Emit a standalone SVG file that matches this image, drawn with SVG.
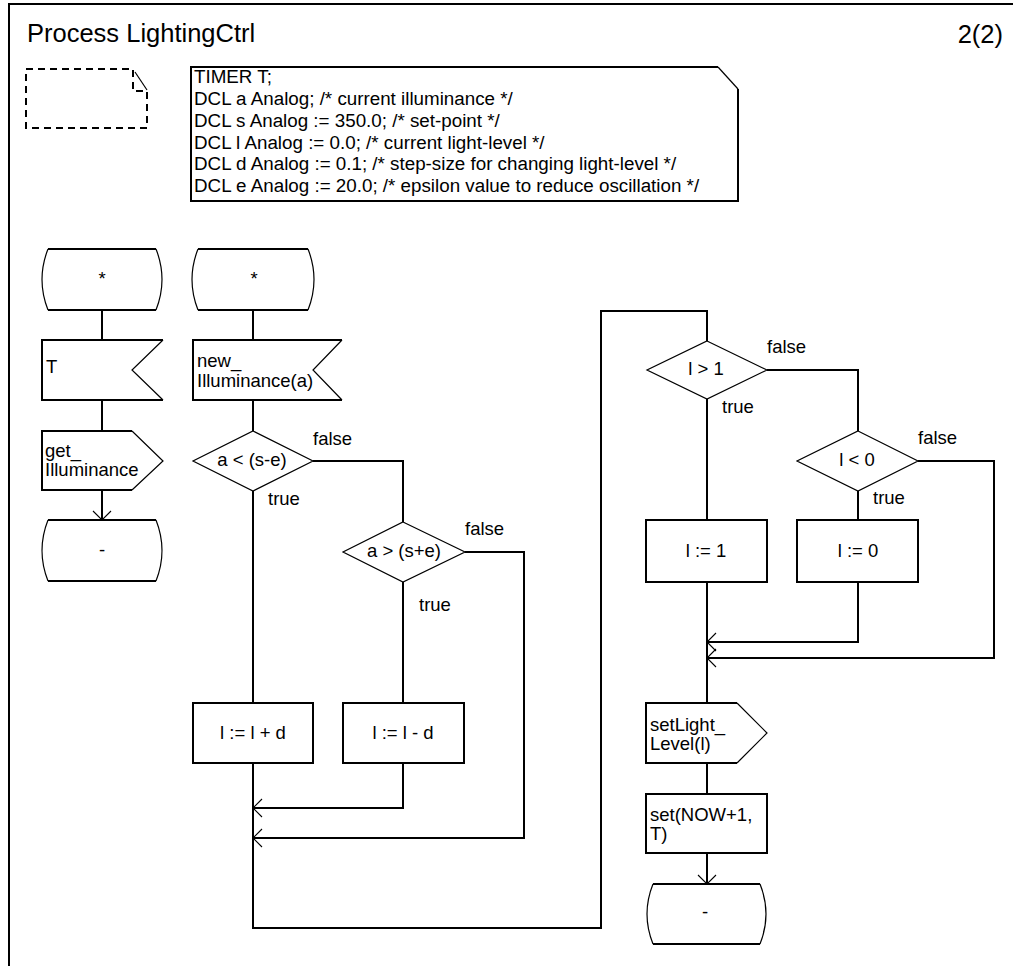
<svg xmlns="http://www.w3.org/2000/svg" width="1013" height="966" viewBox="0 0 1013 966">
  <style>
    .ln { fill: none; stroke: #000; stroke-width: 2; }
    .sl { fill: none; stroke: #000; stroke-width: 1.2; }
    .bg { fill: #fff; stroke: none; }
    .dash { fill: none; stroke: #000; stroke-width: 2; stroke-dasharray: 7 5; }
    text { font-family: "Liberation Sans", Arial, Helvetica, sans-serif; font-size: 18.5px; fill: #000; }
    .title { font-size: 25.5px; }
    .decl { font-size: 18.8px; }
    .mid { text-anchor: middle; }
  </style>
  <defs>
    <marker id="arr" markerUnits="userSpaceOnUse" markerWidth="20" markerHeight="20" refX="10" refY="10" orient="auto" overflow="visible">
      <path d="M1,1 L10,10 L1,19" fill="none" stroke="#000" stroke-width="1.1"/>
    </marker>
  </defs>

  <rect width="1013" height="966" fill="#fff"/>

  <!-- page frame -->
  <g id="frame">
    <path class="ln" d="M9,966 V4 H1013"/>
    <text class="title" x="27" y="42">Process LightingCtrl</text>
    <text class="title" x="1003" y="43" text-anchor="end">2(2)</text>
  </g>

  <!-- empty dashed comment symbol -->
  <g id="comment">
    <path class="dash" d="M26,69 H133 V91 H147 V128 H26 Z"/>
    <path class="sl" d="M135,72 L147,90"/>
  </g>

  <!-- declarations -->
  <g id="decls">
    <path class="bg" d="M191,67 H718 L738,89 V201 H191 Z"/>
    <path class="ln" d="M718,67 H191 V201 H738 V89"/>
    <path class="sl" d="M718,67 L738,89"/>
    <text class="decl" x="194" y="83">TIMER T;</text>
    <text class="decl" x="194" y="105">DCL a Analog; /* current illuminance */</text>
    <text class="decl" x="194" y="127">DCL s Analog := 350.0; /* set-point */</text>
    <text class="decl" x="194" y="149">DCL l Analog := 0.0; /* current light-level */</text>
    <text class="decl" x="194" y="170">DCL d Analog := 0.1; /* step-size for changing light-level */</text>
    <text class="decl" x="194" y="192">DCL e Analog := 20.0; /* epsilon value to reduce oscillation */</text>
  </g>

  <!-- connectors -->
  <g id="connectors">
    <path class="ln" d="M102,310 V340"/>
    <path class="ln" d="M102,400 V431"/>
    <path class="ln" d="M102,490 V520" marker-end="url(#arr)"/>

    <path class="ln" d="M253,310 V340"/>
    <path class="ln" d="M253,400 V431"/>
    <path class="ln" d="M313,461 H403 V522"/>
    <path class="ln" d="M253,491 V703"/>
    <path class="ln" d="M403,582 V703"/>
    <path class="ln" d="M465,552 H524 V838 H253" marker-end="url(#arr)"/>
    <path class="ln" d="M403,763 V808 H253" marker-end="url(#arr)"/>
    <path class="ln" d="M253,763 V928 H601 V311 H707 V341"/>

    <path class="ln" d="M767,370 H858 V431"/>
    <path class="ln" d="M707,399 V520"/>
    <path class="ln" d="M858,491 V520"/>
    <path class="ln" d="M918,461 H994 V658 H707" marker-end="url(#arr)"/>
    <path class="ln" d="M858,582 V642 H707" marker-end="url(#arr)"/>
    <path class="ln" d="M707,582 V703"/>
    <path class="ln" d="M707,763 V794"/>
    <path class="ln" d="M707,853 V884" marker-end="url(#arr)"/>
  </g>

  <!-- timer transition -->
  <g id="start1">
    <path class="bg" d="M48,249 H156 Q168,279.5 156,310 H48 Q36,279.5 48,249 Z"/>
    <path class="ln" d="M48,249 H156 M48,310 H156"/>
    <path class="sl" d="M156,249 Q168,279.5 156,310 M48,249 Q36,279.5 48,310"/>
    <text class="mid" x="102" y="285">*</text>
  </g>
  <g id="inputT">
    <path class="bg" d="M42,340 H163 L132,370 L163,400 H42 Z"/>
    <path class="ln" d="M163,340 H42 V400 H163"/>
    <path class="sl" d="M163,340 L132,370 L163,400"/>
    <text x="46" y="373">T</text>
  </g>
  <g id="outGet">
    <path class="bg" d="M42,431 H132 L163,461 L132,490 H42 Z"/>
    <path class="ln" d="M132,431 H42 V490 H132"/>
    <path class="sl" d="M132,431 L163,461 L132,490"/>
    <text x="45" y="457">get_</text>
    <text x="45" y="476">Illuminance</text>
  </g>
  <g id="end1">
    <path class="bg" d="M48,520 H156 Q168,550.5 156,581 H48 Q36,550.5 48,520 Z"/>
    <path class="ln" d="M48,520 H156 M48,581 H156"/>
    <path class="sl" d="M156,520 Q168,550.5 156,581 M48,520 Q36,550.5 48,581"/>
    <text class="mid" x="102" y="556">-</text>
  </g>

  <!-- illuminance transition -->
  <g id="start2">
    <path class="bg" d="M198,249 H308 Q320,279.5 308,310 H198 Q186,279.5 198,249 Z"/>
    <path class="ln" d="M198,249 H308 M198,310 H308"/>
    <path class="sl" d="M308,249 Q320,279.5 308,310 M198,249 Q186,279.5 198,310"/>
    <text class="mid" x="254" y="285">*</text>
  </g>
  <g id="inputIllum">
    <path class="bg" d="M193,340 H342 L313,370 L342,400 H193 Z"/>
    <path class="ln" d="M342,340 H193 V400 H342"/>
    <path class="sl" d="M342,340 L313,370 L342,400"/>
    <text x="197" y="367">new_</text>
    <text x="197" y="387">Illuminance(a)</text>
  </g>
  <g id="decLow">
    <path class="bg" d="M253,431 L313,461 L253,491 L193,461 Z"/>
    <path class="sl" d="M253,431 L313,461 L253,491 L193,461 Z"/>
    <text class="mid" x="252" y="466">a &lt; (s-e)</text>
    <text x="313" y="445">false</text>
    <text x="268" y="505">true</text>
  </g>
  <g id="decHigh">
    <path class="bg" d="M403,522 L465,552 L403,582 L343,552 Z"/>
    <path class="sl" d="M403,522 L465,552 L403,582 L343,552 Z"/>
    <text class="mid" x="404" y="557">a &gt; (s+e)</text>
    <text x="465" y="535">false</text>
    <text x="419" y="611">true</text>
  </g>
  <g id="taskInc">
    <rect class="ln" x="193" y="703" width="120" height="60" fill="#fff"/>
    <text class="mid" x="253" y="739">l := l + d</text>
  </g>
  <g id="taskDec">
    <rect class="ln" x="343" y="703" width="121" height="60" fill="#fff"/>
    <text class="mid" x="403" y="739">l := l - d</text>
  </g>

  <!-- clamping -->
  <g id="decMax">
    <path class="bg" d="M707,341 L767,370 L707,399 L647,370 Z"/>
    <path class="sl" d="M707,341 L767,370 L707,399 L647,370 Z"/>
    <text class="mid" x="706" y="375">l &gt; 1</text>
    <text x="767" y="353">false</text>
    <text x="722" y="413">true</text>
  </g>
  <g id="decMin">
    <path class="bg" d="M858,431 L918,461 L858,491 L797,461 Z"/>
    <path class="sl" d="M858,431 L918,461 L858,491 L797,461 Z"/>
    <text class="mid" x="857" y="466">l &lt; 0</text>
    <text x="918" y="444">false</text>
    <text x="873" y="504">true</text>
  </g>
  <g id="taskMax">
    <rect class="ln" x="646" y="520" width="121" height="62" fill="#fff"/>
    <text class="mid" x="706" y="557">l := 1</text>
  </g>
  <g id="taskMin">
    <rect class="ln" x="797" y="520" width="121" height="62" fill="#fff"/>
    <text class="mid" x="858" y="557">l := 0</text>
  </g>
  <g id="outSet">
    <path class="bg" d="M646,703 H737 L767,733 L737,763 H646 Z"/>
    <path class="ln" d="M737,703 H646 V763 H737"/>
    <path class="sl" d="M737,703 L767,733 L737,763"/>
    <text x="650" y="731">setLight_</text>
    <text x="650" y="750">Level(l)</text>
  </g>
  <g id="taskTimer">
    <rect class="ln" x="646" y="794" width="121" height="59" fill="#fff"/>
    <text x="650" y="821">set(NOW+1,</text>
    <text x="650" y="840">T)</text>
  </g>
  <g id="end2">
    <path class="bg" d="M653,884 H760 Q772,914 760,944 H653 Q641,914 653,944 Z"/>
    <path class="ln" d="M653,884 H760 M653,944 H760"/>
    <path class="sl" d="M760,884 Q772,914 760,944 M653,884 Q641,914 653,944"/>
    <text class="mid" x="705" y="918">-</text>
  </g>
</svg>
